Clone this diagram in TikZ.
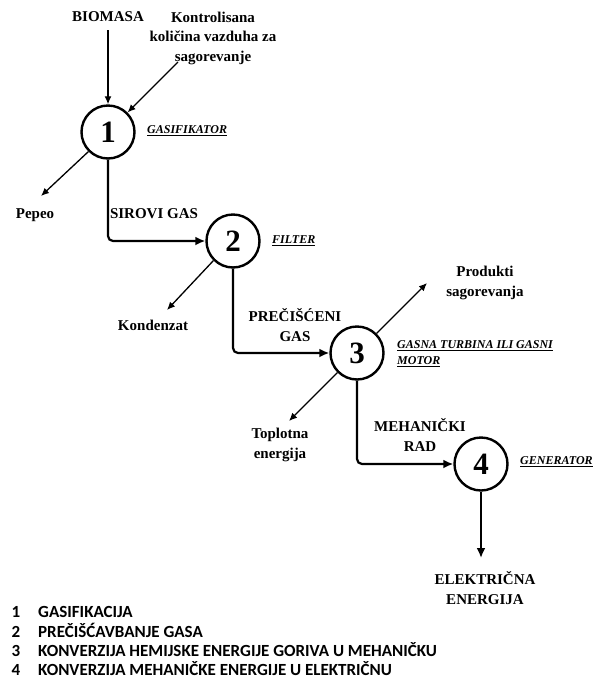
\documentclass[tikz,border=0pt]{standalone}
\usepackage{fontspec}
\setmainfont{Liberation Serif}
\newfontfamily\legendfont{Carlito}
\usetikzlibrary{arrows.meta}

\begin{document}
\begin{tikzpicture}[
  x=1pt, y=-1pt,
  font=\bfseries\fontsize{15}{19.5}\selectfont,
  stage/.style={draw, circle, line width=2.4pt, minimum size=53pt, inner sep=0pt,
                font=\bfseries\fontsize{31}{31}\selectfont},
  lbl/.style={align=center, inner sep=1pt},
  unit/.style={anchor=west, align=left, inner sep=0pt,
               font=\bfseries\itshape\fontsize{12}{16}\selectfont},
  flow/.style={line width=2.2pt, rounded corners=5pt, -{Latex[length=10pt,width=9pt]}},
  side/.style={line width=1.3pt, -{Latex[length=8pt,width=7pt]}},
  legnum/.style={anchor=base, inner sep=0pt, font=\legendfont\bfseries\fontsize{17}{17}\selectfont},
  legtext/.style={anchor=base west, inner sep=0pt, font=\legendfont\bfseries\fontsize{17}{17}\selectfont}
]
\useasboundingbox (0,0) rectangle (598,681);

\node[stage] (c1) at (108,132) {1};
\node[stage] (c2) at (233,241) {2};
\node[stage] (c3) at (357,353) {3};
\node[stage] (c4) at (481,464) {4};

\node[unit] (gasif) at (147,131) {\underline{GASIFIKATOR}};
\node[unit] (filter) at (272,241) {\underline{FILTER}};
\node[unit] (turbina) at (397,354) {\underline{GASNA TURBINA ILI GASNI}\\\underline{MOTOR}};
\node[unit] (gen) at (520,462) {\underline{GENERATOR}};

\node[lbl] (biomasa) at (108,17) {BIOMASA};
\node[lbl] (air) at (213,38) {Kontrolisana\\količina vazduha za\\sagorevanje};
\node[lbl] (pepeo) at (35,215) {Pepeo};
\node[lbl] (sirovi) at (154,214) {SIROVI GAS};
\node[lbl] (kondenzat) at (153,325) {Kondenzat};
\node[lbl] (precisceni) at (295,325) {PREČIŠĆENI\\GAS};
\node[lbl] (produkti) at (485,283) {Produkti\\sagorevanja};
\node[lbl] (toplotna) at (280,445) {Toplotna\\energija};
\node[lbl] (mehanicki) at (420,435) {MEHANIČKI\\RAD};
\node[lbl] (elektricna) at (485,588) {ELEKTRIČNA\\ENERGIJA};

\coordinate (airin) at (178,62);
\coordinate (pepeoend) at (41,196);
\coordinate (kondend) at (167,310);
\coordinate (produktiend) at (427,283);
\coordinate (toplotnaend) at (289,421);
\coordinate (elekend) at (481,558);

\draw[side, shorten <=7pt] (biomasa.south) -- (c1.north);
\draw[side] (airin) -- (c1.45);
\draw[side] (c1.225) -- (pepeoend);
\draw[flow] (c1.south) |- (c2.west);
\draw[side] (c2.225) -- (kondend);
\draw[flow] (c2.south) |- (c3.west);
\draw[side] (c3.45) -- (produktiend);
\draw[side] (c3.225) -- (toplotnaend);
\draw[flow] (c3.south) |- (c4.west);
\draw[flow] (c4.south) -- (elekend);

\node[legnum] (n1) at (16,617) {1};
\node[legtext] (t1) at (38,617) {GASIFIKACIJA};
\node[legnum] (n2) at (16,637) {2};
\node[legtext] (t2) at (38,637) {PREČIŠĆAVBANJE GASA};
\node[legnum] (n3) at (16,656) {3};
\node[legtext] (t3) at (38,656) {KONVERZIJA HEMIJSKE ENERGIJE GORIVA U MEHANIČKU};
\node[legnum] (n4) at (16,675) {4};
\node[legtext] (t4) at (38,675) {KONVERZIJA MEHANIČKE ENERGIJE U ELEKTRIČNU};
\end{tikzpicture}
\end{document}
